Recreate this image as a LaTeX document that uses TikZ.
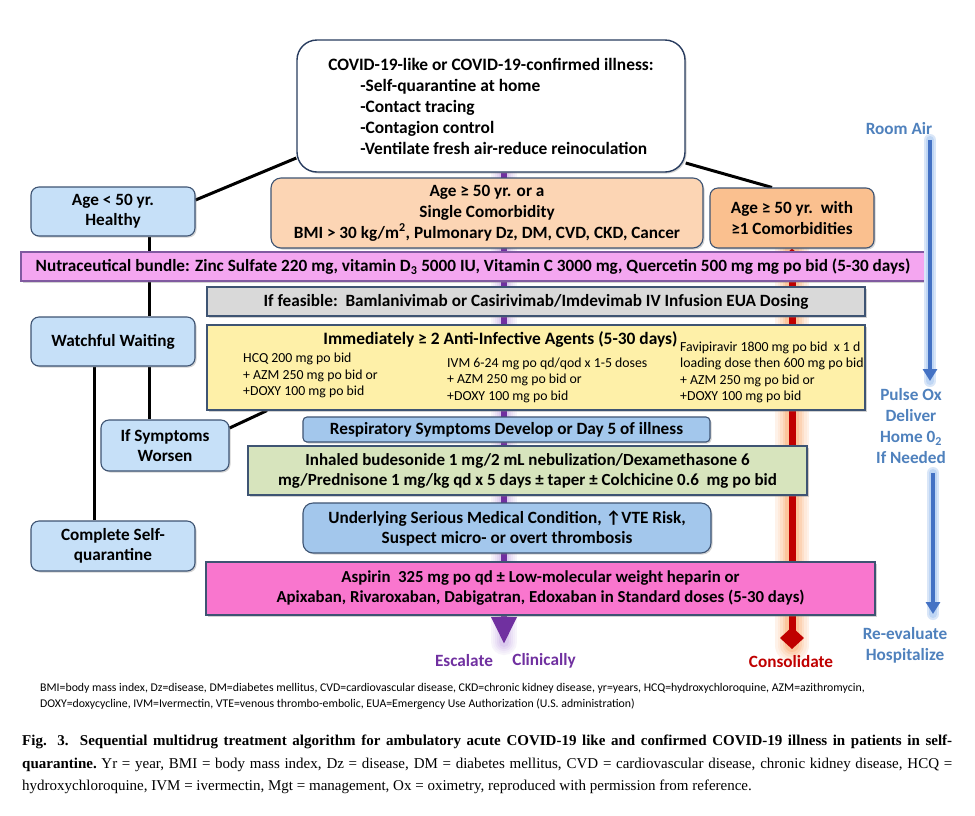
\documentclass[tikz,border=0pt]{standalone}
\usepackage{fontspec}
\setmainfont{Carlito}
\newfontfamily\capfont{Liberation Serif}
\usetikzlibrary{shadows,arrows.meta,calc}
\pgfdeclarelayer{bgzero}
\pgfdeclarelayer{background}
\pgfsetlayers{bgzero,background,main}
\newcommand\fsz[2]{\fontsize{#1pt}{#2pt}\selectfont}
\definecolor{lblue}{RGB}{198,224,248}
\definecolor{mblue}{RGB}{163,199,236}
\definecolor{bord}{RGB}{62,84,115}
\definecolor{topbord}{RGB}{40,60,95}
\definecolor{peach}{RGB}{252,213,180}
\definecolor{orng}{RGB}{250,192,143}
\definecolor{nutra}{RGB}{244,166,240}
\definecolor{nutrabord}{RGB}{128,90,160}
\definecolor{grayb}{RGB}{217,217,217}
\definecolor{yell}{RGB}{254,240,168}
\definecolor{grn}{RGB}{215,228,189}
\definecolor{mag}{RGB}{249,118,206}
\definecolor{purp}{RGB}{112,48,160}
\definecolor{purpglow}{RGB}{190,160,225}
\definecolor{redl}{RGB}{192,0,0}
\definecolor{redglow}{RGB}{250,170,110}
\definecolor{bluel}{RGB}{68,114,196}
\definecolor{blueglow}{RGB}{170,200,240}
\definecolor{bluetxt}{RGB}{79,129,189}
\tikzset{
  box/.style={draw=bord, line width=1.1pt, align=center, inner sep=2pt,
    font=\bfseries\fsz{17.2}{20},
    drop shadow={shadow xshift=1.5pt,shadow yshift=-1.5pt,opacity=0.35}},
  conn/.style={draw=black, line width=3pt},
  coltxt/.style={anchor=west, inner sep=0pt, align=left, font=\fsz{13.8}{16.5}},
  sidetxt/.style={inner sep=0pt, align=center, font=\bfseries\fsz{17.2}{21}, text=bluetxt},
  lbl/.style={inner sep=0pt, font=\bfseries\fsz{17.2}{20}},
}
\begin{document}
\begin{tikzpicture}[x=1pt,y=-1pt]
\useasboundingbox (0,0) rectangle (975,815);
\begin{pgfonlayer}{bgzero}
  \fill[white] (0,0) rectangle (975,815);
\end{pgfonlayer}

% ---- boxes ----
\node[box, draw=topbord, line width=1.4pt, fill=white, rounded corners=20pt,
  minimum width=388pt, minimum height=132pt, align=left,
  font=\bfseries\fsz{17.4}{21}] (top) at (491,106)
  {COVID-19-like or COVID-19-confirmed illness:\\
   \hspace*{32pt}-Self-quarantine at home\\
   \hspace*{32pt}-Contact tracing\\
   \hspace*{32pt}-Contagion control\\
   \hspace*{32pt}-Ventilate fresh air-reduce reinoculation};

\node[box, fill=lblue, rounded corners=8pt, minimum width=164pt, minimum height=49pt]
  (age) at (113,211.5) {Age < 50 yr.\\Healthy};
\node[box, fill=lblue, rounded corners=8pt, minimum width=164pt, minimum height=49pt]
  (watch) at (113,341.5) {Watchful Waiting};
\node[box, fill=lblue, rounded corners=8pt, minimum width=128pt, minimum height=51pt]
  (sym) at (165,445.5) {If Symptoms\\Worsen};
\node[box, fill=lblue, rounded corners=8pt, minimum width=164pt, minimum height=50pt]
  (comp) at (113,546) {Complete Self-\\quarantine};

\node[box, fill=peach, rounded corners=10pt, minimum width=432pt, minimum height=70pt,
  font=\bfseries\fsz{17.2}{21}]
  (single) at (487,213) {Age ≥ 50 yr. or a\\Single Comorbidity\\BMI > 30 kg/m\textsuperscript{2}, Pulmonary Dz, DM, CVD, CKD, Cancer};
\node[box, fill=orng, rounded corners=8pt, minimum width=164pt, minimum height=60pt,
  font=\bfseries\fsz{17.2}{21}]
  (multi) at (792,218) {Age ≥ 50 yr.\ \ with\\≥1 Comorbidities};

\node[box, fill=nutra, draw=nutrabord, minimum width=904pt, minimum height=29pt]
  (nutra) at (473,266.5) {Nutraceutical bundle: Zinc Sulfate 220 mg, vitamin D\textsubscript{3} 5000 IU, Vitamin C 3000 mg, Quercetin 500 mg mg po bid (5-30 days)};

\node[box, fill=grayb, minimum width=658pt, minimum height=29pt]
  (mab) at (536,301.5) {If feasible:\ \ Bamlanivimab or Casirivimab/Imdevimab IV Infusion EUA Dosing};

\node[box, fill=yell, minimum width=658pt, minimum height=85pt] (yellow) at (536,367.5) {};
\node[lbl, font=\bfseries\fsz{17.4}{20}] (antiinf) at (500.5,340)
  {Immediately ≥ 2 Anti-Infective Agents (5-30 days)};
\node[coltxt] (hcq) at (243,375.5) {HCQ 200 mg po bid\\+ AZM 250 mg po bid or\\+DOXY 100 mg po bid};
\node[coltxt] (ivm) at (447,380) {IVM 6-24 mg po qd/qod x 1-5 doses\\+ AZM 250 mg po bid or\\+DOXY 100 mg po bid};
\node[coltxt] (favi) at (680,372.5) {Favipiravir 1800 mg po bid\ \ x 1 d\\loading dose then 600 mg po bid\\+ AZM 250 mg po bid or\\+DOXY 100 mg po bid};

\node[box, fill=mblue, rounded corners=4pt, minimum width=407pt, minimum height=25pt]
  (resp) at (506.5,429.5) {Respiratory Symptoms Develop or Day 5 of illness};

\node[box, fill=grn, minimum width=559pt, minimum height=49pt, font=\bfseries\fsz{17}{20}]
  (steroid) at (527.5,470.5) {Inhaled budesonide 1 mg/2 mL nebulization/Dexamethasone 6\\mg/Prednisone 1 mg/kg qd x 5 days ± taper ± Colchicine 0.6\ \ mg po bid};

\node[box, fill=mblue, rounded corners=10pt, minimum width=408pt, minimum height=50pt]
  (vte) at (507,528) {Underlying Serious Medical Condition, ↑VTE Risk,\\Suspect micro- or overt thrombosis};

\node[box, fill=mag, minimum width=669pt, minimum height=53pt, font=\bfseries\fsz{16.8}{20}]
  (anticoag) at (540.5,588.5) {Aspirin\ \ 325 mg po qd ± Low-molecular weight heparin or\\Apixaban, Rivaroxaban, Dabigatran, Edoxaban in Standard doses (5-30 days)};

% ---- side labels ----
\node[lbl, text=purp] (escal) at (464,661) {Escalate};
\node[lbl, text=purp] (clin) at (544,661) {Clinically};
\node[lbl, text=redl] (cons) at (791,662) {Consolidate};

\node[sidetxt] (roomair) at (899,129) {Room Air};
\node[sidetxt] (pulse) at (911,426.5) {Pulse Ox\\Deliver\\Home 0\textsubscript{2}\\If Needed};
\node[sidetxt] (reeval) at (905,645) {Re-evaluate\\Hospitalize};

\coordinate (b1s) at (930,140);
\coordinate (b1e) at (930,381);
\coordinate (b2s) at (933,473);
\coordinate (b2e) at (933,614);
\coordinate (esctip) at (504,644);
\coordinate (constip) at (792,649);

% ---- footnote and caption ----
\node[anchor=west, inner sep=0pt, align=left, font=\fsz{11.8}{16}] (abbr) at (40,696)
  {BMI=body mass index, Dz=disease, DM=diabetes mellitus, CVD=cardiovascular disease, CKD=chronic kidney disease, yr=years, HCQ=hydroxychloroquine, AZM=azithromycin,\\
   DOXY=doxycycline, IVM=Ivermectin, VTE=venous thrombo-embolic, EUA=Emergency Use Authorization (U.S. administration)};

\node[anchor=north west, inner sep=0pt, align=left, font=\capfont\fsz{15}{22.5}] (caption) at (22,735)
  {\makebox[930pt][s]{\bfseries Fig. 3.\ \ Sequential multidrug treatment algorithm for ambulatory acute COVID-19 like and confirmed COVID-19 illness in patients in self-}\\
   \makebox[930pt][s]{\bfseries quarantine.\mdseries\ Yr = year, BMI = body mass index, Dz = disease, DM = diabetes mellitus, CVD = cardiovascular disease, chronic kidney disease, HCQ =}\\
   hydroxychloroquine, IVM = ivermectin, Mgt = management, Ox = oximetry, reproduced with permission from reference.};

% ---- connectors (behind boxes) ----
\begin{pgfonlayer}{background}
  % purple escalate arrow with soft glow
  \foreach \w/\c in {26/12,22/20,18/30,14/42,10/55}
    \draw[line width=\w pt, draw=purpglow!\c!white, line cap=round] (top.south -| esctip) -- ([yshift=2pt]esctip);
  \draw[line width=6.5pt, draw=purp, -{Triangle[length=27pt,width=24pt]}] (top.south -| esctip) -- (esctip);
  % red consolidate line with soft glow
  \foreach \w/\c in {34/15,29/25,24/38,19/52,14/68}
    \draw[line width=\w pt, draw=redglow!\c!white, line cap=round] (multi.south) -- ([yshift=4pt]constip);
  \draw[line width=7pt, draw=redl, {Triangle[length=5pt,width=11pt]}-{Diamond[length=22pt,width=24pt]}] (multi.south) -- (constip);
  % black connectors
  \draw[conn] ([yshift=-52pt]top.west) -- ([yshift=11.5pt]age.east);
  \draw[conn] ([yshift=-57pt]top.east) -- ([xshift=-20pt]multi.north);
  \draw[conn] ([xshift=36pt]age.south) -- ([xshift=36pt]watch.north);
  \draw[conn] ([xshift=36pt]watch.south) -- ([xshift=-16pt]sym.north);
  \draw[conn] ([xshift=-19pt]watch.south) -- ([xshift=-19pt]comp.north);
  \draw[conn] ([yshift=17.5pt]sym.east) -- ([xshift=-269pt]yellow.south);
\end{pgfonlayer}

% ---- blue side arrows ----
\foreach \s/\e in {b1s/b1e,b2s/b2e}{
  \draw[line width=12pt, draw=blueglow!45!white, line cap=round] (\s) -- (\e);
  \draw[line width=8pt, draw=blueglow!75!white, line cap=round] (\s) -- (\e);
  \draw[line width=4.5pt, draw=bluel, -{Triangle[length=12pt,width=14pt]}] (\s) -- (\e);
}
\end{tikzpicture}
\end{document}
